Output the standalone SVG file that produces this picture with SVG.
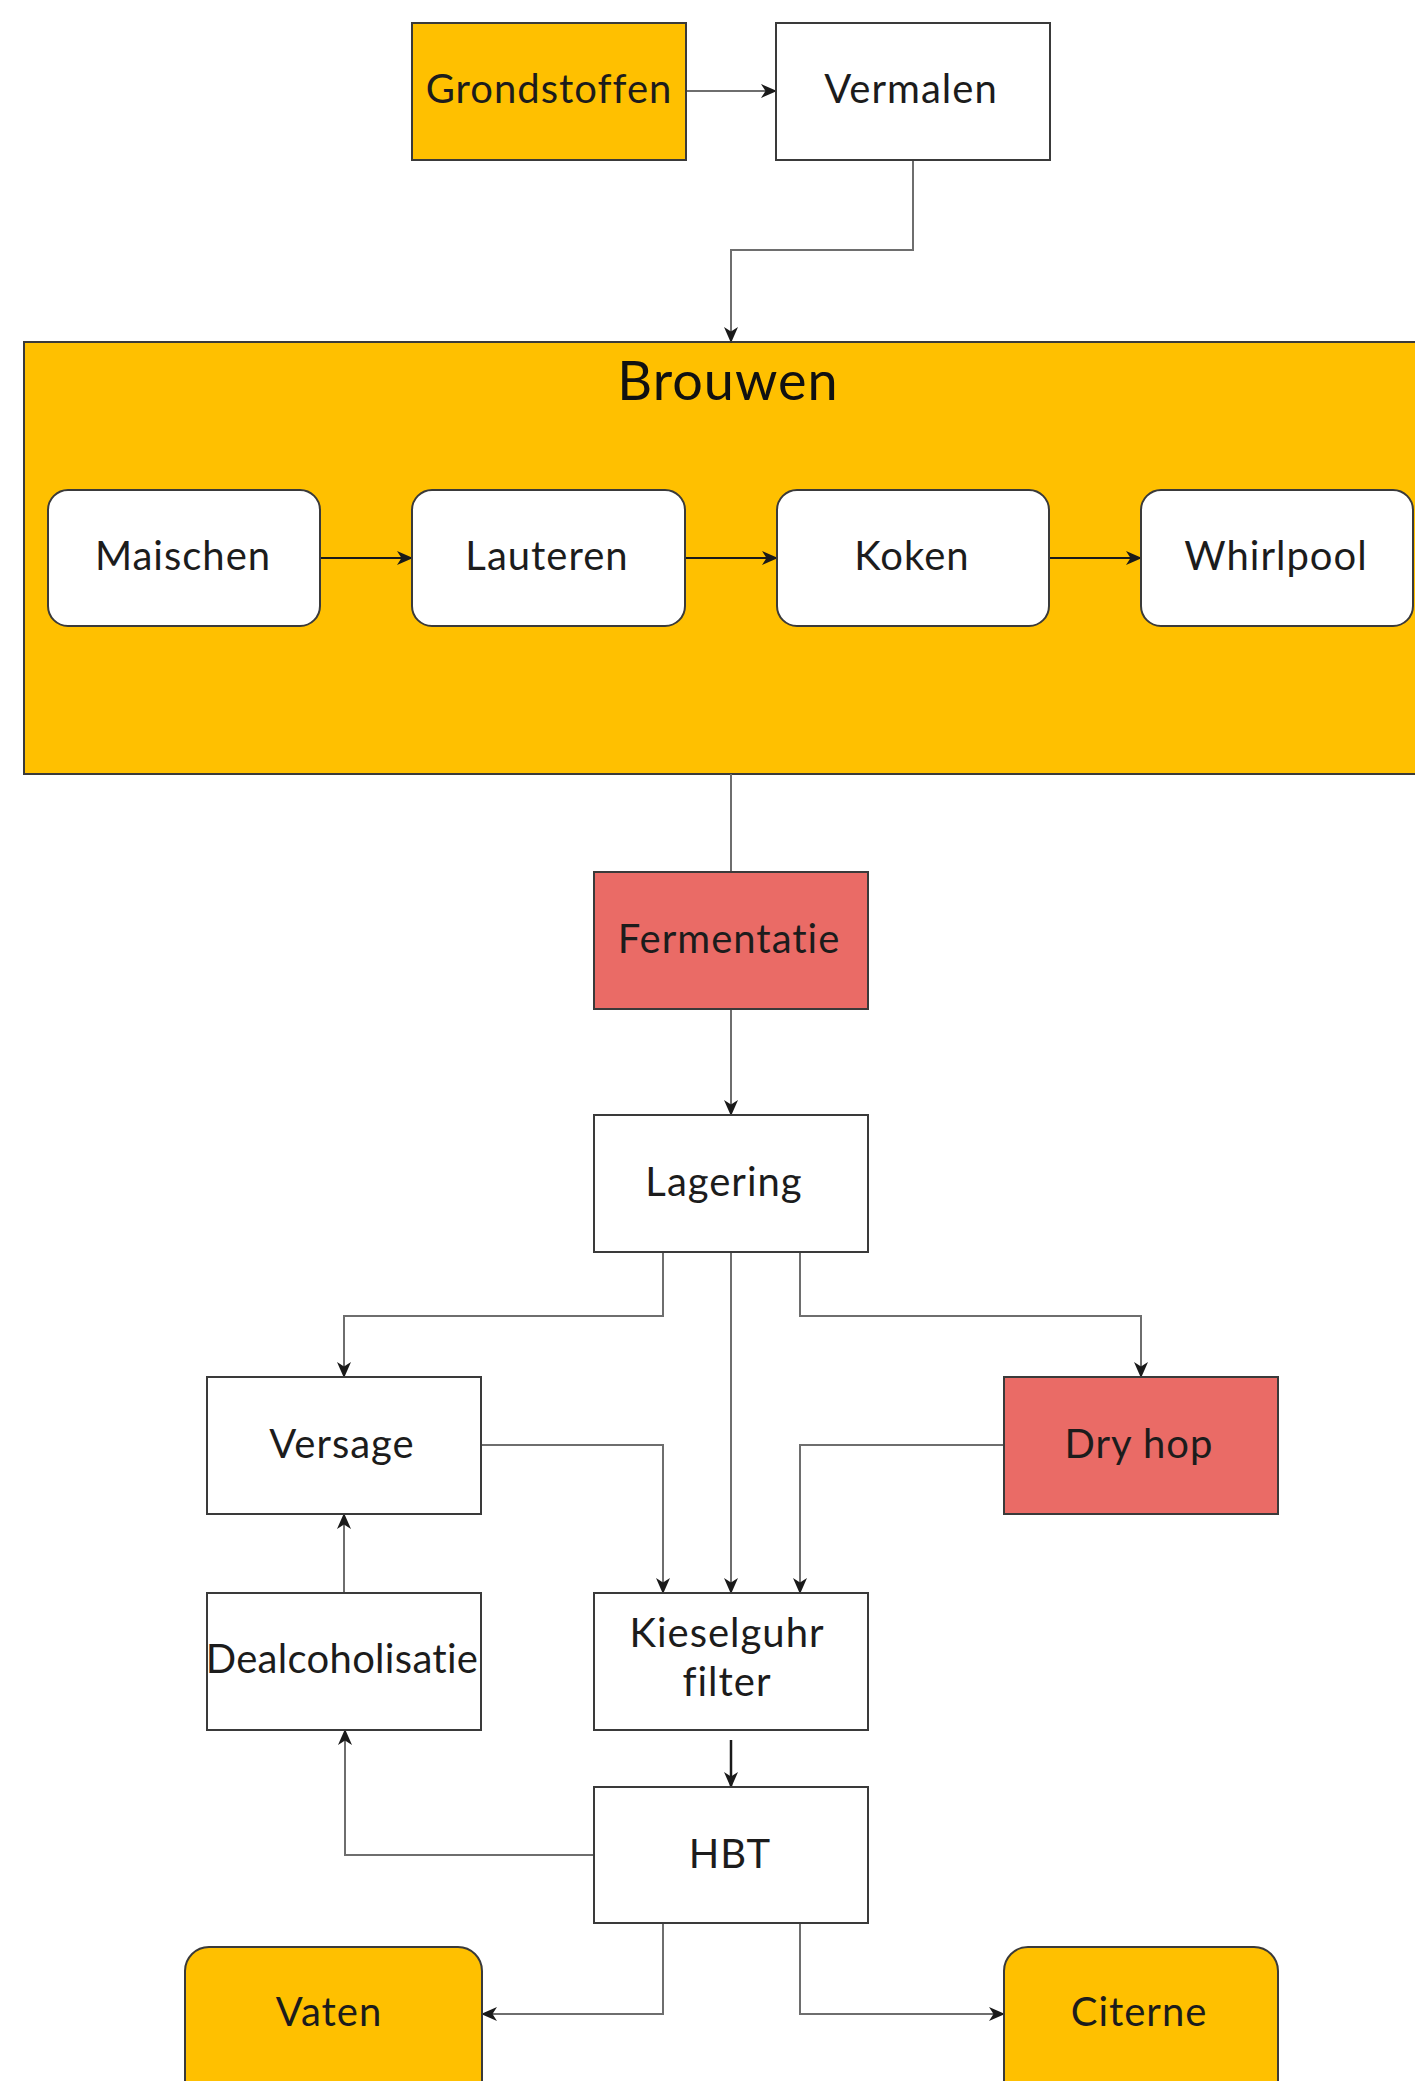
<svg xmlns="http://www.w3.org/2000/svg" width="1415" height="2081" viewBox="0 0 1415 2081">
<style>
  .box { stroke: #3a3a3a; stroke-width: 2; }
  .white { fill: #ffffff; }
  .orange { fill: #FFC000; }
  .red { fill: #EA6B66; }
  .lbl { font-family: Lato, "Noto Sans", sans-serif; font-size: 40px; letter-spacing: 1px; font-variant-ligatures: none; fill: #1c1c1c; text-anchor: middle; }
  .title { font-family: Lato, "Noto Sans", sans-serif; font-size: 54px; letter-spacing: 1px; font-variant-ligatures: none; fill: #111111; text-anchor: middle; }
  .conn { fill: none; stroke: #6e6e6e; stroke-width: 2; marker-end: url(#arr); }
  .conn-dark { fill: none; stroke: #1a1a1a; stroke-width: 2; marker-end: url(#arr); }
  .plain { fill: none; stroke: #6e6e6e; stroke-width: 2; }
</style>
<defs>
  <marker id="arr" viewBox="0 0 16 16" refX="15" refY="8" markerWidth="16" markerHeight="16" markerUnits="userSpaceOnUse" orient="auto">
    <path d="M0,1 L16,8 L0,15 L4.5,8 z" fill="#1a1a1a"/>
  </marker>
</defs>
<rect x="0" y="0" width="1415" height="2081" fill="#ffffff"/>

<g id="brouwen">
  <rect class="box orange" x="24" y="342" width="1414" height="432"/>
  <text class="title" x="728" y="400">Brouwen</text>
</g>

<g id="connectors">
  <path class="conn" d="M686,91 H776"/>
  <path class="conn" d="M913,160 V250 H731 V342"/>
  <path class="conn-dark" d="M320,558 H412"/>
  <path class="conn-dark" d="M685,558 H777"/>
  <path class="conn-dark" d="M1049,558 H1141"/>
  <path class="plain" d="M731,774 V872"/>
  <path class="conn" d="M731,1009 V1115"/>
  <path class="conn" d="M663,1252 V1316 H344 V1377"/>
  <path class="conn" d="M731,1252 V1593"/>
  <path class="conn" d="M800,1252 V1316 H1141 V1377"/>
  <path class="conn" d="M481,1445 H663 V1593"/>
  <path class="conn" d="M1004,1445 H800 V1593"/>
  <path class="conn" d="M344,1593 V1514"/>
  <path class="conn-dark" d="M731,1740 V1787" style="stroke-width:2.5"/>
  <path class="conn" d="M594,1855 H345 V1730"/>
  <path class="conn" d="M663,1923 V2014 H482"/>
  <path class="conn" d="M800,1923 V2014 H1004"/>
</g>

<g id="grondstoffen">
  <rect class="box orange" x="412" y="23" width="274" height="137"/>
  <text class="lbl" x="549" y="103">Grondstoffen</text>
</g>
<g id="vermalen">
  <rect class="box white" x="776" y="23" width="274" height="137"/>
  <text class="lbl" x="911" y="103">Vermalen</text>
</g>
<g id="maischen">
  <rect class="box white" x="48" y="490" width="272" height="136" rx="20"/>
  <text class="lbl" x="183" y="570">Maischen</text>
</g>
<g id="lauteren">
  <rect class="box white" x="412" y="490" width="273" height="136" rx="20"/>
  <text class="lbl" x="547" y="570">Lauteren</text>
</g>
<g id="koken">
  <rect class="box white" x="777" y="490" width="272" height="136" rx="20"/>
  <text class="lbl" x="912" y="570">Koken</text>
</g>
<g id="whirlpool">
  <rect class="box white" x="1141" y="490" width="272" height="136" rx="20"/>
  <text class="lbl" x="1276" y="570">Whirlpool</text>
</g>
<g id="fermentatie">
  <rect class="box red" x="594" y="872" width="274" height="137"/>
  <text class="lbl" x="729" y="953">Fermentatie</text>
</g>
<g id="lagering">
  <rect class="box white" x="594" y="1115" width="274" height="137"/>
  <text class="lbl" x="724" y="1196">Lagering</text>
</g>
<g id="versage">
  <rect class="box white" x="207" y="1377" width="274" height="137"/>
  <text class="lbl" x="342" y="1458">Versage</text>
</g>
<g id="dryhop">
  <rect class="box red" x="1004" y="1377" width="274" height="137"/>
  <text class="lbl" x="1139" y="1458">Dry hop</text>
</g>
<g id="dealcoholisatie">
  <rect class="box white" x="207" y="1593" width="274" height="137"/>
  <text class="lbl" x="342" y="1673" style="letter-spacing:0.3px">Dealcoholisatie</text>
</g>
<g id="kieselguhr">
  <rect class="box white" x="594" y="1593" width="274" height="137"/>
  <text class="lbl" x="727" y="1647">Kieselguhr</text>
  <text class="lbl" x="727" y="1696">filter</text>
</g>
<g id="hbt">
  <rect class="box white" x="594" y="1787" width="274" height="136"/>
  <text class="lbl" x="730" y="1868">HBT</text>
</g>
<g id="vaten">
  <rect class="box orange" x="185" y="1947" width="297" height="160" rx="24"/>
  <text class="lbl" x="329" y="2026">Vaten</text>
</g>
<g id="citerne">
  <rect class="box orange" x="1004" y="1947" width="274" height="160" rx="24"/>
  <text class="lbl" x="1139" y="2026">Citerne</text>
</g>
</svg>
